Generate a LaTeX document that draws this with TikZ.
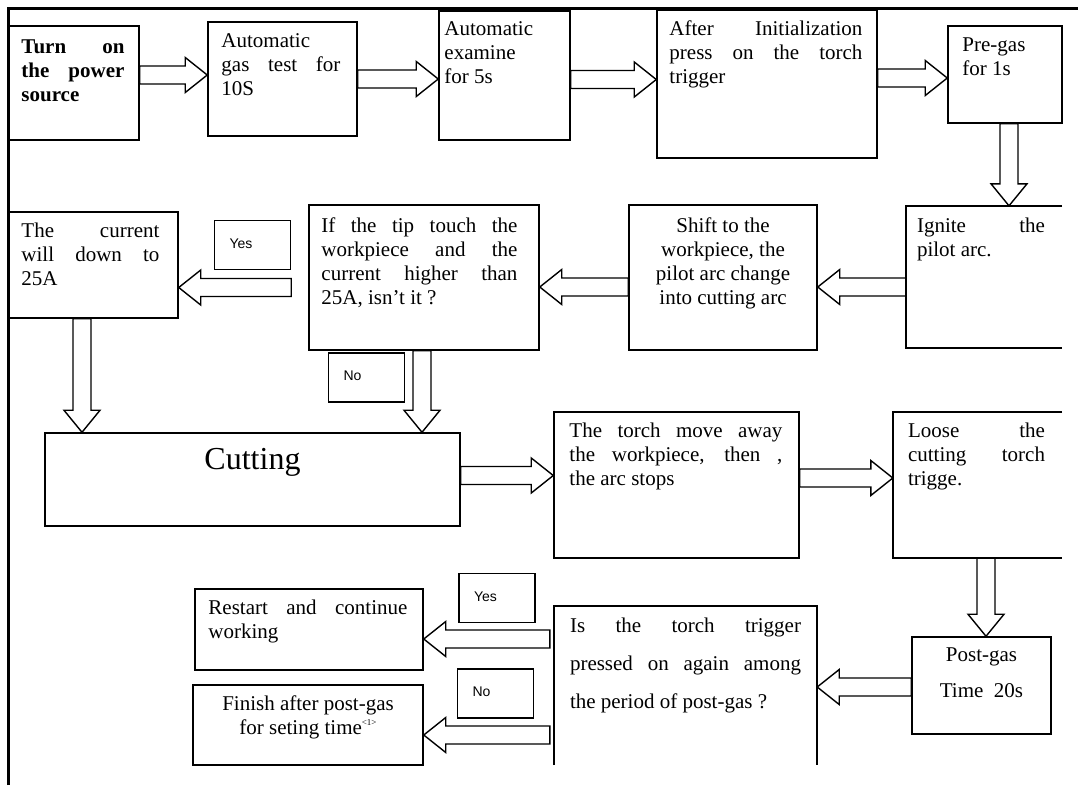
\documentclass[tikz,border=0pt]{standalone}
\usepackage{fontspec}
\setmainfont{Liberation Serif}
\setsansfont{Liberation Sans}
\usepackage{tikz}
\usetikzlibrary{calc}
\usetikzlibrary{positioning}
\hyphenpenalty=10000
\exhyphenpenalty=10000
\tikzstyle{box} = [rectangle, draw, line width=1.5pt, inner sep=0pt]
\tikzstyle{frame} = [rectangle, inner sep=0pt]
\tikzstyle{side} = [line width=1.5pt]
\tikzstyle{txt} = [inner sep=0pt, anchor=north west, align=justify, font=\fontsize{21}{24}\selectfont]
\tikzstyle{mid} = [inner sep=0pt, anchor=north, align=center, font=\fontsize{21}{24}\selectfont]
\tikzstyle{tag} = [rectangle, draw, line width=1.4pt, minimum height=49pt, text width=46pt, inner xsep=15pt, align=left, font=\sffamily\fontsize{14}{16}\selectfont]
\tikzset{
  hfat/.style = {draw, line width=1.4pt,
    to path = {let \p1 = (\tikztostart), \p2 = (\tikztostart -| \tikztotarget), \p3 = ($(\p2)!22pt!(\p1)$) in
      (\x1,\y1+9pt) -- (\x3,\y1+9pt) -- (\x3,\y1+17.5pt) -- (\p2) -- (\x3,\y1-17.5pt) -- (\x3,\y1-9pt) -- (\x1,\y1-9pt) -- cycle}},
  vfat/.style = {draw, line width=1.4pt,
    to path = {let \p1 = (\tikztostart), \p2 = (\tikztostart |- \tikztotarget), \p3 = ($(\p2)!22pt!(\p1)$) in
      (\x1+9pt,\y1) -- (\x1+9pt,\y3) -- (\x1+18pt,\y3) -- (\p2) -- (\x1-18pt,\y3) -- (\x1-9pt,\y3) -- (\x1-9pt,\y1) -- cycle}}
}
\begin{document}
\begin{tikzpicture}[x=1pt, y=-1pt]
\useasboundingbox (0,0) rectangle (1078,785);
\draw [line width=3pt] (8,785) -- (8,8) -- (1078,8);

\node [box, minimum width=130pt, minimum height=114pt] (on) at (74,83) {};
\node [txt, text width=103pt, font=\bfseries\fontsize{21}{24}\selectfont] (onT) at ([xshift=13pt, yshift=-14pt]on.north west) {Turn on\linebreak the power\linebreak source};
\node [box, minimum width=149pt, minimum height=114pt] (gas) at (282.5,79) {};
\node [txt, text width=119pt] (gasT) at ([xshift=14pt, yshift=-12pt]gas.north west) {Automatic\linebreak gas test for\linebreak 10S};
\node [box, minimum width=131pt, minimum height=129pt] (exam) at (504.5,75.5) {};
\node [txt, text width=120pt] (examT) at ([xshift=6pt, yshift=-11pt]exam.north west) {Automatic\linebreak examine\linebreak for 5s};
\node [box, minimum width=220pt, minimum height=148pt] (init) at (767,84) {};
\node [txt, text width=193pt] (initT) at ([xshift=13pt, yshift=-11pt]init.north west) {After Initialization\linebreak press on the torch\linebreak trigger};
\node [box, minimum width=114pt, minimum height=97pt] (pre) at (1005,74.5) {};
\node [txt, text width=90pt] (preT) at ([xshift=15pt, yshift=-12pt]pre.north west) {Pre-gas\linebreak for 1s};

\node [frame, minimum width=156pt, minimum height=142pt] (ig) at (984,277) {};
\draw [side] (ig.north east) -| (ig.south west) -- (ig.south east);
\node [txt, text width=128pt] (igT) at ([xshift=11pt, yshift=-12pt]ig.north west) {Ignite the\linebreak pilot arc.};
\node [box, minimum width=188pt, minimum height=145pt] (shift) at (723,277.5) {};
\node [mid] (shiftT) at ([yshift=-13pt]shift.north) {Shift to the\\ workpiece, the\\ pilot arc change\\ into cutting arc};
\node [box, minimum width=230pt, minimum height=145pt] (if) at (424,277.5) {};
\node [txt, text width=196pt] (ifT) at ([xshift=13pt, yshift=-13pt]if.north west) {If the tip touch the\linebreak workpiece and the\linebreak current higher than\linebreak 25A, isn't it ?};
\node [box, minimum width=169pt, minimum height=106pt] (cur) at (93.5,265) {};
\node [txt, text width=138pt] (curT) at ([xshift=13pt, yshift=-11pt]cur.north west) {The current\linebreak will down to\linebreak 25A};
\node [tag] (yes1) at (252.5,245) {\raisebox{3pt}{Yes}};
\node [tag] (no1) at (366.5,377.5) {\raisebox{3pt}{No}};

\node [box, minimum width=415pt, minimum height=93pt] (cut) at (252.5,479.5) {};
\node [inner sep=0pt, font=\fontsize{32}{36}\selectfont] (cutT) at ([yshift=17pt]cut.center) {Cutting};
\node [box, minimum width=245pt, minimum height=146pt] (torch) at (676.5,485) {};
\node [txt, text width=213pt] (torchT) at ([xshift=16pt, yshift=-11pt]torch.north west) {The torch move away\linebreak the workpiece, then ,\linebreak the arc stops};
\node [frame, minimum width=169pt, minimum height=146pt] (loose) at (977.5,485) {};
\draw [side] (loose.north east) -| (loose.south west) -- (loose.south east);
\node [txt, text width=137pt] (looseT) at ([xshift=15pt, yshift=-11pt]loose.north west) {Loose the\linebreak cutting torch\linebreak trigge.};

\node [box, minimum width=139pt, minimum height=97pt] (post) at (981.5,685.5) {};
\node [mid, font=\fontsize{21}{36}\selectfont] (postT) at ([yshift=-11pt]post.north) {Post-gas\\ Time~~20s};
\node [frame, minimum width=263pt, minimum height=159pt] (is) at (685.5,685.5) {};
\draw [side] (is.south west) |- (is.north east) -- (is.south east);
\node [txt, text width=231pt, font=\fontsize{21}{38}\selectfont] (isT) at ([xshift=16pt, yshift=-12pt]is.north west) {Is the torch trigger\linebreak pressed on again among\linebreak the period of post-gas ?};
\node [box, minimum width=228pt, minimum height=81pt] (restart) at (309,629.5) {};
\node [txt, text width=199pt] (restartT) at ([xshift=14pt, yshift=-11pt]restart.north west) {Restart and continue\linebreak working};
\node [box, minimum width=230pt, minimum height=80pt] (finish) at (308,725) {};
\node [mid] (finishT) at ([yshift=-11pt]finish.north) {Finish after post-gas\\ for seting time\raisebox{9pt}{\fontsize{9}{9}\selectfont<1>}};
\node [tag] (yes2) at (497,598) {\raisebox{3pt}{Yes}};
\node [tag] (no2) at (495.5,693.5) {\raisebox{3pt}{No}};

\draw [hfat] ([yshift=8pt]on.east) to (gas.west);
\draw [hfat] (gas.east) to (exam.west);
\draw [hfat] ([yshift=-4pt]exam.east) to (init.west);
\draw [hfat] ([yshift=6pt]init.east) to (pre.west);
\draw [vfat] ([xshift=4pt]pre.south) to (ig.north);
\draw [hfat] ([yshift=-10pt]ig.west) to (shift.east);
\draw [hfat] ([yshift=-9.5pt]shift.west) to (if.east);
\draw [hfat] ([xshift=-17pt, yshift=-10pt]if.west) to (cur.east);
\draw [vfat] ([xshift=-11.5pt]cur.south) to (cut.north);
\draw [vfat] ([xshift=-2pt]if.south) to (cut.north);
\draw [hfat] ([yshift=4pt]cut.east) to (torch.west);
\draw [hfat] ([yshift=7pt]torch.east) to (loose.west);
\draw [vfat] ([xshift=8.5pt]loose.south) to (post.north);
\draw [hfat] ([yshift=-1.5pt]post.west) to (is.east);
\draw [hfat] ([xshift=-4pt, yshift=46.5pt]is.west) to (restart.east);
\draw [hfat] ([xshift=-4pt, yshift=-49.5pt]is.west) to (finish.east);
\end{tikzpicture}
\end{document}
